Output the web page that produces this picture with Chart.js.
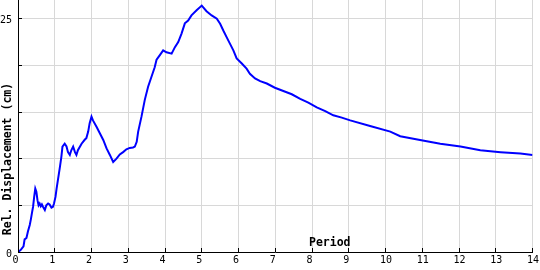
<!DOCTYPE html>
<html>
<head>
<meta charset="utf-8">
<script src="https://cdn.jsdelivr.net/npm/chart.js@4"></script>
<style>
  html, body { margin: 0; padding: 0; background: #fff; }
</style>
</head>
<body>
<canvas id="chart" width="540" height="270"></canvas>
<script>
// spectrum values
const periods = [
  0.00, 0.07, 0.15, 0.18, 0.23, 0.27, 0.32, 0.35, 0.38, 0.41, 0.44, 0.47, 0.50, 0.53, 0.56, 0.59,
  0.62, 0.65, 0.68, 0.73, 0.77, 0.82, 0.86, 0.91, 0.95, 0.98, 1.02, 1.05, 1.09, 1.14, 1.18, 1.21,
  1.27, 1.32, 1.36, 1.41, 1.45, 1.50, 1.55, 1.59, 1.63, 1.73, 1.82, 1.86, 1.91, 1.95, 2.00, 2.04,
  2.14, 2.23, 2.32, 2.41, 2.50, 2.59, 2.68, 2.77, 2.86, 2.95, 3.04, 3.13, 3.18, 3.23, 3.27, 3.36,
  3.45, 3.54, 3.63, 3.72, 3.77, 3.86, 3.95, 4.04, 4.18, 4.27, 4.36, 4.45, 4.54, 4.63, 4.72, 4.86,
  5.00, 5.13, 5.27, 5.41, 5.50, 5.59, 5.68, 5.77, 5.86, 5.95, 6.09, 6.22, 6.31, 6.45, 6.59, 6.77,
  6.99, 7.22, 7.45, 7.68, 7.90, 8.13, 8.36, 8.58, 8.81, 9.04, 9.58, 10.13, 10.40, 10.94, 11.49,
  12.04, 12.58, 13.13, 13.67, 14.00
];
const displacement = [
  0.0, 0.2, 0.6, 1.35, 1.5, 2.2, 2.9, 3.5, 4.2, 4.85, 5.9, 6.8, 6.45, 5.55, 5.0, 5.2,
  4.9, 5.1, 4.85, 4.5, 5.0, 5.2, 5.1, 4.75, 4.85, 5.2, 5.9, 6.8, 7.8, 9.1, 10.2, 11.3,
  11.6, 11.3, 10.7, 10.4, 10.9, 11.3, 10.7, 10.4, 10.9, 11.6, 12.05, 12.2, 12.9, 13.8, 14.5, 14.1,
  13.4, 12.7, 12.0, 11.1, 10.4, 9.65, 10.0, 10.45, 10.7, 11.0, 11.15, 11.2, 11.3, 11.8, 12.9, 14.5,
  16.3, 17.7, 18.75, 19.8, 20.6, 21.1, 21.6, 21.4, 21.25, 21.95, 22.5, 23.4, 24.5, 24.8, 25.35, 25.9,
  26.4, 25.8, 25.35, 25.0, 24.45, 23.7, 23.0, 22.3, 21.6, 20.75, 20.2, 19.65, 19.1, 18.6, 18.3, 18.05,
  17.6, 17.25, 16.9, 16.4, 16.0, 15.5, 15.1, 14.65, 14.4, 14.1, 13.5, 12.9, 12.4, 12.0, 11.6,
  11.3, 10.9, 10.7, 10.55, 10.4
];
const xTicks = [0, 1, 2, 3, 4, 5, 6, 7, 8, 9, 10, 11, 12, 13, 14];
const yTicks = [0, 5, 10, 15, 20, 25];
const yLabelsShown = [0, 25];
const xTitle = "Period";
const yTitle = "Rel. Displacement (cm)";

const tickFont = { family: "DejaVu Sans Mono", size: 10 };
const titleFont = "bold 11.5px 'DejaVu Sans Mono'";

function align(p) { return Math.round(p - 0.5) + 0.5; }

// small black tick marks pointing into the plot, plus both axis titles
const extras = {
  id: "extras",
  afterDraw(chart) {
    const { ctx, chartArea, scales } = chart;
    ctx.save();
    ctx.strokeStyle = "#000";
    ctx.lineWidth = 1;
    ctx.beginPath();
    xTicks.forEach(v => {
      const x = align(scales.x.getPixelForValue(v));
      ctx.moveTo(x, chartArea.bottom);
      ctx.lineTo(x, chartArea.bottom - 4);
    });
    yTicks.forEach(v => {
      const y = align(scales.y.getPixelForValue(v));
      ctx.moveTo(chartArea.left, y);
      ctx.lineTo(chartArea.left + 4, y);
    });
    ctx.stroke();

    ctx.fillStyle = "#000";
    ctx.font = titleFont;
    ctx.textAlign = "left";
    ctx.textBaseline = "alphabetic";
    ctx.fillText(xTitle, 309, chartArea.bottom - 6);

    ctx.translate(8, 159);
    ctx.rotate(-Math.PI / 2);
    ctx.textAlign = "center";
    ctx.textBaseline = "middle";
    ctx.fillText(yTitle, 0, 0);
    ctx.restore();
  }
};

new Chart(document.getElementById("chart"), {
  type: "line",
  data: {
    datasets: [{
      data: periods.map((p, i) => ({ x: p, y: displacement[i] })),
      borderColor: "#0000ff",
      borderWidth: 2,
      pointRadius: 0,
      tension: 0,
      fill: false
    }]
  },
  options: {
    responsive: false,
    animation: false,
    devicePixelRatio: 1,
    layout: { padding: { top: 0, right: 7.5, bottom: 0, left: 0 } },
    plugins: { legend: { display: false }, tooltip: { enabled: false } },
    scales: {
      x: {
        type: "linear",
        min: 0,
        max: 14,
        afterBuildTicks: s => { s.ticks = xTicks.map(v => ({ value: v })); },
        afterFit: s => { s.height = 18; s.paddingLeft = 0; s.paddingRight = 0; },
        ticks: {
          color: "#000",
          font: tickFont,
          padding: 2,
          align: "start",
          labelOffset: -5.5,
          maxRotation: 0,
          autoSkip: false
        },
        grid: { color: "#d8d8d8", lineWidth: 1, drawTicks: false },
        border: { color: "#000", width: 1 }
      },
      y: {
        min: 0,
        max: 27,
        afterBuildTicks: s => { s.ticks = yTicks.map(v => ({ value: v })); },
        afterFit: s => { s.width = 18; s.paddingTop = 0; s.paddingBottom = 0; },
        ticks: {
          color: "#000",
          font: tickFont,
          padding: 6,
          labelOffset: 2,
          callback: v => yLabelsShown.includes(v) ? String(v) : ""
        },
        grid: { color: "#d8d8d8", lineWidth: 1, drawTicks: false },
        border: { color: "#000", width: 1 }
      }
    }
  },
  plugins: [extras]
});
</script>
</body>
</html>
